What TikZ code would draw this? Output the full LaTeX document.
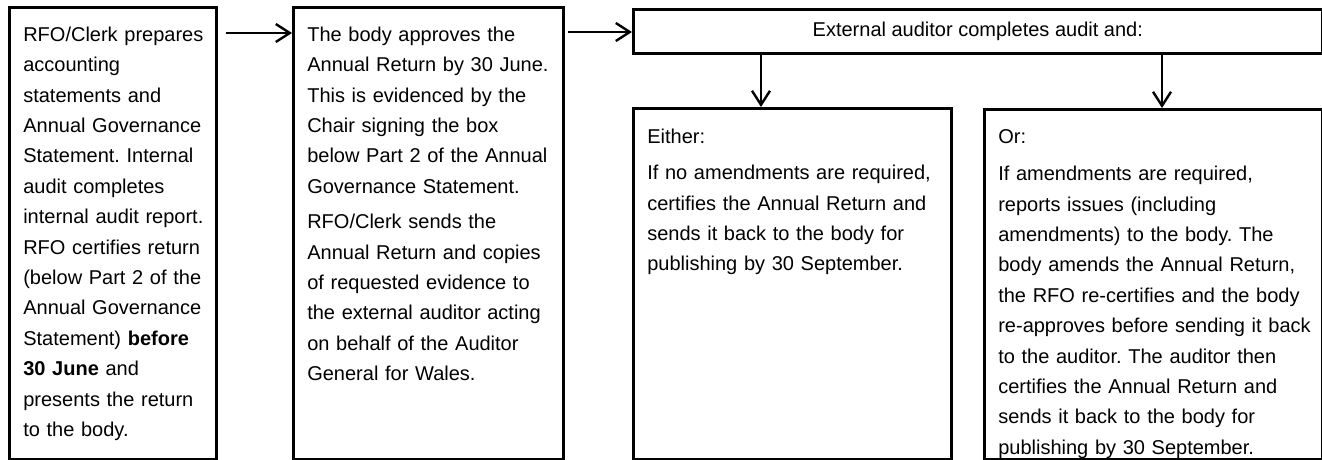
\documentclass[tikz,border=0pt]{standalone}
\usepackage{fontspec}
\setmainfont{Liberation Sans}
\usetikzlibrary{arrows.meta,calc}
\frenchspacing

\begin{document}
\begin{tikzpicture}[x=0.5pt, y=-0.5pt,
        stagebox/.style={draw, line width=1.3pt, anchor=north west, inner xsep=3pt, inner ysep=0pt,
            font=\fontsize{10}{15.2}\selectfont,
            execute at begin node={\raggedright\leftskip=4pt\hyphenpenalty=10000\relax}},
        headbox/.style={draw, line width=1.3pt, anchor=north west, inner sep=0pt,
            font=\fontsize{10}{12}\selectfont},
        flow/.style={line width=1.2pt, -{Straight Barb[length=7pt, width=9pt]}}]
            \useasboundingbox (0, 0) rectangle (1322, 460);

            \node[stagebox, text width=97.5pt, text height=17pt, text depth=209pt] (prepare) at (8, 6)
                {RFO/Clerk prepares\\ accounting\\ statements and\\ Annual Governance\\ Statement. Internal\\
                 audit completes\\ internal audit report.\\ RFO certifies return\\ (below Part 2 of the\\
                 Annual Governance\\ Statement) \textbf{before}\\ \textbf{30 June} and\\ presents the return\\ to the body.};
            \node[stagebox, text width=129pt, text height=17pt, text depth=209pt] (approve) at (292, 6)
                {The body approves the\\ Annual Return by 30 June.\\ This is evidenced by the\\ Chair signing the box\\
                 below Part 2 of the Annual\\ Governance Statement.\\[2.5pt]
                 RFO/Clerk sends the\\ Annual Return and copies\\ of requested evidence to\\
                 the external auditor acting\\ on behalf of the Auditor\\ General for Wales.};
            \node[headbox, minimum width=344.5pt, minimum height=22pt] (audit) at (632, 8)
                {External auditor completes audit and:};
            \node[stagebox, text width=153pt, text height=17.5pt, text depth=158pt] (either) at (632, 107)
                {Either:\\[3pt] If no amendments are required,\\ certifies the Annual Return and\\
                 sends it back to the body for\\ publishing by 30 September.};
            \node[stagebox, text width=163pt, text height=17pt, text depth=158pt] (or) at (983, 108)
                {Or:\\[3.5pt] If amendments are required,\\ reports issues (including\\ amendments) to the body. The\\
                 body amends the Annual Return,\\ the RFO re-certifies and the body\\ re-approves before sending it back\\
                 to the auditor. The auditor then\\ certifies the Annual Return and\\ sends it back to the body for\\
                 publishing by 30 September.};

            \coordinate (eitherin) at ($(either.north west)+(129, 0)$);
            \coordinate (orin) at ($(or.north west)+(179, 0)$);

            \draw[flow] ($(prepare.north east)+(8, 27)$) -- ($(approve.north west)+(0, 27)$);
            \draw[flow] ($(approve.north east)+(3, 26)$) -- ($(audit.north west)+(0, 24)$);
            \draw[flow] (audit.south -| eitherin) -- (eitherin);
            \draw[flow] (audit.south -| orin) -- (orin);
        \end{tikzpicture}
\end{document}
